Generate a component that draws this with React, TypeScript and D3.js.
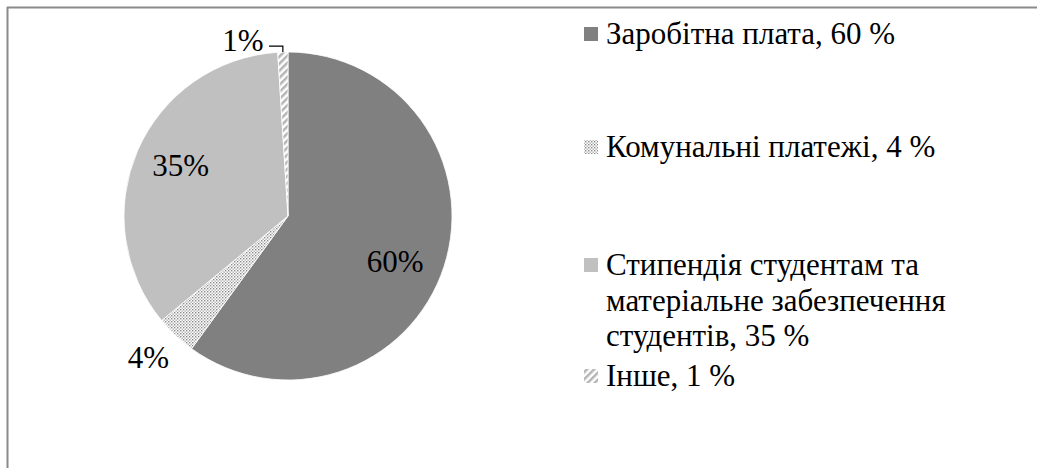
import React from "react";
import * as d3 from "d3";

const categories = ["Заробітна плата", "Комунальні платежі", "Стипендія студентам та матеріальне забезпечення студентів", "Інше"];
const values = [60, 4, 35, 1];
const legendLines = [
  ["Заробітна плата, 60 %"],
  ["Комунальні платежі, 4 %"],
  ["Стипендія студентам та", "матеріальне забезпечення", "студентів, 35 %"],
  ["Інше, 1 %"],
];
const fills = ["#808080", "url(#dots)", "#c0c0c0", "url(#hatch)"];
// label placement: [angle nudge in degrees, radius factor]
const labelPlacement = [[5, 0.71], [1.5, 1.21], [2, 0.725], [-12.5, 1.11]];
const legendBaselines = [44, 157, 275, 386];

const W = 1037, H = 468;
const cx = 288, cy = 216, R = 164;
const font = "Liberation Serif, DejaVu Serif, serif";

export default function App() {
  const pie = d3.pie<number>().value(d => d).sort(null).startAngle(0).endAngle(2 * Math.PI);
  const arcs = pie(values);
  const arc = d3.arc<d3.PieArcDatum<number>>().innerRadius(0).outerRadius(R);

  const polar = (a: number, r: number) => [cx + r * Math.sin(a), cy - r * Math.cos(a)];

  return (
    <svg width={W} height={H} style={{ position: "absolute", left: 0, top: 0, background: "#fff" }}>
      <defs>
        <pattern id="dots" width="3" height="3" patternUnits="userSpaceOnUse">
          <rect width="3" height="3" fill="#fff" />
          <rect x="0" y="0" width="1.4" height="1.4" fill="#8a8a8a" />
          <rect x="1.5" y="1.5" width="1.4" height="1.4" fill="#b0b0b0" />
        </pattern>
        <pattern id="hatch" width="5" height="5" patternUnits="userSpaceOnUse" patternTransform="rotate(45)">
          <rect width="5" height="5" fill="#fff" />
          <rect x="0" y="0" width="2.5" height="5" fill="#b4b4b4" />
        </pattern>
      </defs>
      <line x1={7} y1={7.5} x2={W} y2={7.5} stroke="#8a8a8a" strokeWidth={2} />
      <line x1={7.5} y1={7} x2={7.5} y2={H} stroke="#8a8a8a" strokeWidth={2} />
      <g>
        {arcs.map((a, i) => (
          <path key={i} d={arc(a) || ""} transform={`translate(${cx},${cy})`} fill={fills[i]} stroke="#fff" strokeWidth={0.8} />
        ))}
      </g>
      {arcs.map((a, i) => {
        const mid = (a.startAngle + a.endAngle) / 2;
        const ang = mid + (labelPlacement[i][0] * Math.PI) / 180;
        const [x, y] = polar(ang, labelPlacement[i][1] * R);
        return (
          <text key={i} x={x} y={y + 11} textAnchor="middle" style={{ fontFamily: font }} fontSize={31} fill="#000">
            {`${values[i]}%`}
          </text>
        );
      })}
      {(() => {
        const a = arcs[3];
        const mid = (a.startAngle + a.endAngle) / 2;
        const [px, py] = polar(mid, R);
        const ang = mid + (labelPlacement[3][0] * Math.PI) / 180;
        const [lx] = polar(ang, labelPlacement[3][1] * R);
        return <path d={`M${lx + 26},${py - 6} H${px} V${py}`} fill="none" stroke="#000" strokeWidth={1.2} />;
      })()}
      {legendLines.map((lines, i) => (
        <g key={i}>
          <rect x={584} y={legendBaselines[i] - 17} width={14} height={14} fill={fills[i]} />
          {lines.map((ln, j) => (
            <text key={j} x={606} y={legendBaselines[i] + j * 35.5} style={{ fontFamily: font }} fontSize={31} fill="#000">{ln}</text>
          ))}
        </g>
      ))}
    </svg>
  );
}
